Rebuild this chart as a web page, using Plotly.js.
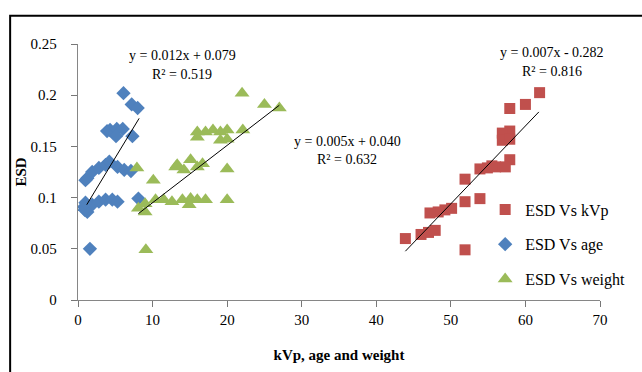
<!DOCTYPE html>
<html>
<head>
<meta charset="utf-8">
<script src="https://cdn.plot.ly/plotly-3.0.1.min.js"></script>
<style>html,body{margin:0;padding:0;background:#fff}#chart{width:642px;height:372px}</style>
</head>
<body>
<div id="chart"></div>
<script>
// ESD vs kVp (red squares)
var kvpX = [61.9, 60, 57.9, 57.9, 56.9, 56.9, 57.9, 57.9, 56, 53.9, 54.9, 57.3, 55.5, 51.9, 53.9, 51.9, 49.2, 48.3, 50.1, 47.2, 43.9, 46, 47, 47.9, 51.9];
var kvpY = [0.2025, 0.191, 0.187, 0.165, 0.163, 0.156, 0.157, 0.137, 0.13, 0.128, 0.129, 0.13, 0.131, 0.118, 0.099, 0.096, 0.088, 0.086, 0.0895, 0.085, 0.060, 0.064, 0.066, 0.068, 0.049];
// ESD vs age (blue diamonds)
var ageX = [6.1, 7.2, 8.0, 3.9, 4.3, 5.2, 6.0, 5.1, 7.3, 1.0, 1.25, 1.9, 2.8, 3.7, 4.2, 5.3, 6.2, 7.1, 0.8, 1.25, 1.9, 2.8, 3.7, 4.6, 5.3, 8.1, 1.6, 0.9, 1.0];
var ageY = [0.202, 0.191, 0.1875, 0.165, 0.166, 0.167, 0.167, 0.16, 0.16, 0.117, 0.119, 0.125, 0.129, 0.132, 0.135, 0.13, 0.127, 0.126, 0.091, 0.086, 0.093, 0.096, 0.098, 0.098, 0.096, 0.099, 0.05, 0.088, 0.095];
// ESD vs weight (green triangles)
var weightX = [22, 25, 27, 16, 17.1, 18.1, 19.1, 20, 22.1, 16, 19.1, 20, 13.3, 14.2, 15.1, 16, 16.7, 13.1, 20, 10.1, 7.9, 8.1, 9.0, 9.0, 10.4, 11.5, 12.6, 14, 15.1, 16, 17.1, 14.9, 20, 9.1];
var weightY = [0.202, 0.191, 0.1875, 0.164, 0.164, 0.166, 0.164, 0.166, 0.166, 0.159, 0.156, 0.157, 0.132, 0.127, 0.137, 0.13, 0.133, 0.13, 0.128, 0.117, 0.129, 0.0895, 0.094, 0.086, 0.098, 0.098, 0.096, 0.098, 0.099, 0.098, 0.098, 0.093, 0.098, 0.049];

// Trendline coefficients as drawn in the picture (slope, intercept)
var trendSlope = [0.0076, 0.012, 0.0056];
var trendIntercept = [-0.286, 0.079, 0.039];
var trendStart = [43.9, 1.17, 8.1];
var trendEnd = [61.8, 8.2, 27];

var eqTexts = ["y = 0.007x - 0.282", "y = 0.012x + 0.079", "y = 0.005x + 0.040"];
var r2Texts = ["R² = 0.816", "R² = 0.519", "R² = 0.632"];
var seriesNames = ["ESD Vs kVp", "ESD Vs age", "ESD Vs weight"];

var F = "Liberation Serif";
var sets = [[kvpX, kvpY, 'square', '#C0504D', 11], [ageX, ageY, 'diamond', '#4F81BD', 11], [weightX, weightY, 'triangle-up', '#9BBB59', 13]];
var traces = [];
sets.forEach(function (s, i) {
  traces.push({x: s[0], y: s[1], type: 'scatter', mode: 'markers', name: seriesNames[i], legendgroup: 'g' + i,
    marker: {symbol: s[2], color: s[3], size: s[4], line: {width: 0}}});
});
sets.forEach(function (s, i) {
  var xs = [trendStart[i], trendEnd[i]];
  var ys = xs.map(function (v) { return trendSlope[i] * v + trendIntercept[i]; });
  traces.push({x: xs, y: ys, type: 'scatter', mode: 'lines', showlegend: false, hoverinfo: 'skip',
    line: {color: '#000', width: 1}});
});

var annPos = [[63.5, 0.242, 0.223], [14.0, 0.239, 0.220], [36.1, 0.155, 0.137]];
var annotations = [];
annPos.forEach(function (p, i) {
  annotations.push({x: p[0], y: p[1], xref: 'x', yref: 'y', text: eqTexts[i], showarrow: false, font: {family: F, size: 14, color: '#000'}});
  annotations.push({x: p[0], y: p[2], xref: 'x', yref: 'y', text: r2Texts[i], showarrow: false, font: {family: F, size: 14, color: '#000'}});
});

var layout = {
  width: 642, height: 372,
  margin: {l: 78, r: 39, t: 44, b: 72},
  paper_bgcolor: '#fff', plot_bgcolor: '#fff',
  font: {family: F, size: 14, color: '#000'},
  xaxis: {range: [0, 70], dtick: 10, showgrid: false, zeroline: false, showline: true, linecolor: '#868686', linewidth: 1,
    ticks: 'outside', ticklen: 6, tickwidth: 1, tickcolor: '#777', tickfont: {family: F, size: 15, color: '#000'},
    title: {text: '<b>kVp, age and weight</b>', font: {family: F, size: 15, color: '#000'}, standoff: 22}},
  yaxis: {range: [0, 0.25], dtick: 0.05, showgrid: false, zeroline: false, showline: true, linecolor: '#868686', linewidth: 1,
    ticks: 'outside', ticklen: 6, tickwidth: 1, tickcolor: '#777', tickfont: {family: F, size: 15, color: '#000'},
    ticksuffix: '\u00a0\u00a0\u00a0',
    title: {text: '<b>ESD</b>', font: {family: F, size: 15, color: '#000'}, standoff: 0}},
  showlegend: true,
  legend: {x: 0.78, y: 0.42, xanchor: 'left', yanchor: 'top', font: {family: F, size: 16, color: '#000'}, tracegroupgap: 11,
    bgcolor: 'rgba(0,0,0,0)', itemsizing: 'trace'},
  annotations: annotations,
  shapes: [{type: 'rect', xref: 'paper', yref: 'paper', x0: -0.13, x1: 1.3, y0: -0.5, y1: 1.11, line: {color: '#000', width: 2}, layer: 'below'}]
};
Plotly.newPlot('chart', traces, layout, {displayModeBar: false, staticPlot: true});
</script>
</body>
</html>
